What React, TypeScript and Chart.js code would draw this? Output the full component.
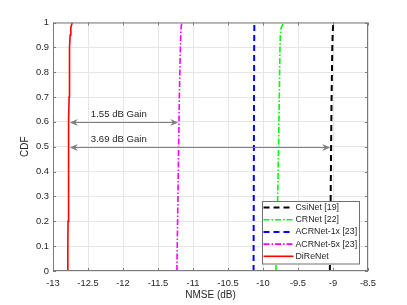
import React, { useEffect, useRef } from "react";
import { Chart, registerables } from "chart.js";
Chart.register(...registerables);

// ---- data ----
const cdfLevels = [0, 0.1, 0.2, 0.3, 0.4, 0.5, 0.6, 0.7, 0.8, 0.9, 0.95, 0.98, 1];
const csiNet = [-9.045, -9.04, -9.037, -9.033, -9.03, -9.027, -9.024, -9.02, -9.015, -9.01, -9.005, -9.0, -8.995];
const crNet = [-9.815, -9.805, -9.798, -9.79, -9.784, -9.778, -9.772, -9.767, -9.762, -9.757, -9.752, -9.74, -9.7];
const acrNet1x = [-10.135, -10.134, -10.133, -10.132, -10.131, -10.13, -10.129, -10.128, -10.127, -10.126, -10.125, -10.124, -10.122];
const acrNet5x = [-11.23, -11.225, -11.22, -11.215, -11.21, -11.205, -11.2, -11.195, -11.188, -11.18, -11.175, -11.17, -11.16];
const diReNet = [-12.79, -12.788, -12.785, -12.782, -12.779, -12.776, -12.773, -12.77, -12.766, -12.762, -12.755, -12.745, -12.725];
const seriesNames = ["CsiNet [19]", "CRNet [22]", "ACRNet-1x [23]", "ACRNet-5x [23]", "DiReNet"];
const seriesValues = [csiNet, crNet, acrNet1x, acrNet5x, diReNet];

const xMin = -13, xMax = -8.5, xStep = 0.5;
const yMin = 0, yMax = 1, yStep = 0.1;

const gainLabels = ["1.55 dB Gain", "3.69 dB Gain"];
const arrowLevels = [0.6, 0.5];
const arrowFrom = [-12.76, -12.76];
const arrowTo = [-11.21, -9.04];
const gainLabelX = [-12.46, -12.46];

// ---- styles ----
const colors = ["#000000", "#00ff00", "#0000ff", "#ff00ff", "#ff0000"];
const dashes: number[][] = [[6, 4], [6, 2, 1.5, 2], [6, 4], [6, 2, 1.5, 2], []];
const widths = [2, 1.6, 2, 1.6, 1.6];
const FONT = '"Liberation Sans", Arial, Helvetica, sans-serif';
const TXT = "#262626";

const fmt = (v: any) => String(Math.round(Number(v) * 100) / 100);

function arrowHead(ctx: CanvasRenderingContext2D, x: number, y: number, dir: number) {
  ctx.beginPath();
  ctx.moveTo(x, y);
  ctx.lineTo(x + dir * 8, y - 3.5);
  ctx.lineTo(x + dir * 5.5, y);
  ctx.lineTo(x + dir * 8, y + 3.5);
  ctx.closePath();
  ctx.fill();
}

const overlay = {
  id: "overlay",
  afterDraw(chart: any) {
    const { ctx, chartArea: a, scales } = chart;
    const x = scales.x, y = scales.y;
    ctx.save();
    // box
    ctx.strokeStyle = "#7a7a7a";
    ctx.lineWidth = 1;
    ctx.setLineDash([]);
    ctx.strokeRect(a.left + 0.5, a.top + 0.5, a.right - a.left - 1, a.bottom - a.top - 1);
    // inward ticks
    ctx.beginPath();
    x.ticks.forEach((t: any) => {
      const px = Math.round(x.getPixelForValue(t.value)) + 0.5;
      ctx.moveTo(px, a.bottom);
      ctx.lineTo(px, a.bottom - 3);
      ctx.moveTo(px, a.top);
      ctx.lineTo(px, a.top + 3);
    });
    y.ticks.forEach((t: any) => {
      const py = Math.round(y.getPixelForValue(t.value)) + 0.5;
      ctx.moveTo(a.left, py);
      ctx.lineTo(a.left + 3, py);
      ctx.moveTo(a.right, py);
      ctx.lineTo(a.right - 3, py);
    });
    ctx.stroke();

    // gain arrows
    ctx.strokeStyle = "#808080";
    ctx.fillStyle = "#808080";
    gainLabels.forEach((lab, i) => {
      const py = Math.round(y.getPixelForValue(arrowLevels[i])) + 0.5;
      const x0 = x.getPixelForValue(arrowFrom[i]);
      const x1 = x.getPixelForValue(arrowTo[i]);
      ctx.beginPath();
      ctx.moveTo(x0 + 5, py);
      ctx.lineTo(x1 - 5, py);
      ctx.stroke();
      arrowHead(ctx, x0, py, 1);
      arrowHead(ctx, x1, py, -1);
    });
    ctx.fillStyle = TXT;
    ctx.font = `9.6px ${FONT}`;
    ctx.textBaseline = "middle";
    ctx.textAlign = "left";
    gainLabels.forEach((lab, i) => {
      const py = y.getPixelForValue(arrowLevels[i]);
      ctx.fillText(lab, x.getPixelForValue(gainLabelX[i]), py - 7.5);
    });

    // legend
    const lx = a.right - 106, ly = 201, lw = 97, lh = 62.5;
    ctx.fillStyle = "#ffffff";
    ctx.fillRect(lx, ly, lw, lh);
    ctx.strokeStyle = "#707070";
    ctx.lineWidth = 1;
    ctx.strokeRect(lx + 0.5, ly + 0.5, lw, lh);
    ctx.font = `8.8px ${FONT}`;
    seriesNames.forEach((name, i) => {
      const ry = ly + 6.5 + i * 12.2;
      ctx.strokeStyle = colors[i];
      ctx.lineWidth = widths[i];
      ctx.setLineDash(dashes[i]);
      ctx.beginPath();
      ctx.moveTo(lx + 1.5, ry);
      ctx.lineTo(lx + 31.5, ry);
      ctx.stroke();
      ctx.setLineDash([]);
      ctx.fillStyle = TXT;
      ctx.fillText(name, lx + 33.5, ry);
    });
    ctx.restore();
  },
};

export default function App() {
  const ref = useRef<HTMLCanvasElement>(null);
  useEffect(() => {
    const datasets = seriesNames.map((name, i) => ({
      label: name,
      data: cdfLevels.map((c, k) => ({ x: seriesValues[i][k], y: c })),
      showLine: true,
      borderColor: colors[i],
      backgroundColor: colors[i],
      borderWidth: widths[i],
      borderDash: dashes[i],
      pointRadius: 0,
      tension: 0,
      fill: false,
    }));
    const chart = new Chart(ref.current!, {
      type: "scatter",
      data: { datasets },
      options: {
        animation: false,
        responsive: false,
        devicePixelRatio: 1,
        layout: { padding: { left: 0, top: 22.5, right: 39, bottom: 0 } },
        plugins: { legend: { display: false }, tooltip: { enabled: false } },
        scales: {
          x: {
            type: "linear",
            min: xMin,
            max: xMax,
            ticks: { stepSize: xStep, color: TXT, font: { family: FONT, size: 9.4 }, padding: 7, maxRotation: 0, callback: fmt },
            grid: { color: "#e6e6e6", drawTicks: false },
            border: { display: false },
            title: { display: true, text: "NMSE (dB)", color: TXT, font: { family: FONT, size: 10 }, padding: { top: 0, bottom: 3.5 } },
            afterFit: (s: any) => { s.height = 34; },
          },
          y: {
            type: "linear",
            min: yMin,
            max: yMax,
            ticks: { stepSize: yStep, color: TXT, font: { family: FONT, size: 9.4 }, padding: 4, callback: fmt },
            grid: { color: "#e6e6e6", drawTicks: false },
            border: { display: false },
            title: { display: true, text: "CDF", color: TXT, font: { family: FONT, size: 10 }, padding: { top: 19, bottom: 0 } },
            afterFit: (s: any) => { s.width = 53; },
          },
        },
      },
      plugins: [overlay],
    });
    return () => chart.destroy();
  }, []);
  return (
    <div style={{ position: "absolute", left: 0, top: 0, width: 407, height: 305, background: "#fff" }}>
      <canvas ref={ref} width={407} height={305} style={{ display: "block" }} />
    </div>
  );
}
